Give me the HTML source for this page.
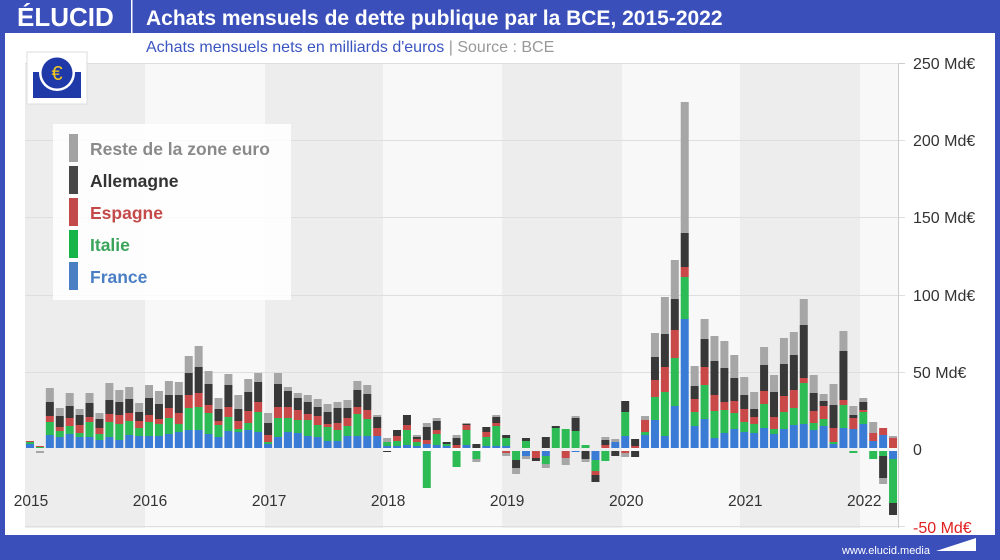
<!DOCTYPE html>
<html><head><meta charset="utf-8">
<style>
body{margin:0;width:1000px;height:560px;overflow:hidden;background:#fff;font-family:"Liberation Sans",sans-serif}
#wrap{position:relative;width:1000px;height:560px}
</style></head><body><div id="wrap">
<svg id="s" width="1000" height="560" xmlns="http://www.w3.org/2000/svg" style="position:absolute;left:0;top:0">
<rect x="0" y="0" width="1000" height="560" fill="#3b4fbb"/>
<rect x="5" y="33" width="990" height="502" fill="#fff"/>
<text x="17" y="26" font-size="26" font-weight="bold" fill="#fff" font-family="Liberation Sans">ÉLUCID</text>
<rect x="131" y="0" width="1.5" height="33" fill="#fff"/>
<text x="146" y="25" font-size="21" font-weight="bold" fill="#fff" font-family="Liberation Sans">Achats mensuels de dette publique par la BCE, 2015-2022</text>
<text x="146" y="52" font-size="16" fill="#3b55c0" font-family="Liberation Sans">Achats mensuels nets en milliards d'euros <tspan fill="#999">  |  Source : BCE</tspan></text>
<g id="bg"></g>
<g id="bars"></g>
<line x1="898.5" y1="63" x2="898.5" y2="528" stroke="#ccc"/>
<g font-size="16" fill="#333" font-family="Liberation Sans">
<text x="913" y="69">250 Md€</text>
<text x="913" y="146">200 Md€</text>
<text x="913" y="223">150 Md€</text>
<text x="913" y="301">100 Md€</text>
<text x="913" y="378">50 Md€</text>
<text x="913" y="455">0</text>
<text x="913" y="533" fill="#e02020">-50 Md€</text>
</g>
<g id="xl" font-size="15.5" fill="#333" font-family="Liberation Sans" text-anchor="middle"></g>
<rect x="27" y="52" width="60" height="52" fill="#fff" stroke="#ddd"/>
<rect x="33" y="72" width="48" height="26" fill="#1f3aa8"/>
<circle cx="57" cy="73" r="18" fill="#fff"/>
<circle cx="57" cy="73" r="15.5" fill="#1f3aa8"/>
<text x="57" y="80" font-size="20" fill="#f3c81c" text-anchor="middle" font-family="Liberation Sans">€</text>
<rect x="53" y="124" width="238" height="176" fill="#fff" fill-opacity="0.85"/>
<rect x="69" y="134" width="9" height="28" fill="#a3a3a3"/>
<rect x="69" y="166" width="9" height="28" fill="#474747"/>
<rect x="69" y="198" width="9" height="28" fill="#c24a4a"/>
<rect x="69" y="230" width="9" height="28" fill="#16b449"/>
<rect x="69" y="262" width="9" height="28" fill="#4a7fc4"/>
<g font-size="17.5" font-family="Liberation Sans" font-weight="bold">
<text x="90" y="155" fill="#8a8a8a">Reste de la zone euro</text>
<text x="90" y="187" fill="#333">Allemagne</text>
<text x="90" y="219" fill="#c44a4a">Espagne</text>
<text x="90" y="251" fill="#3aa55a">Italie</text>
<text x="90" y="283" fill="#4a7fc4">France</text>
</g>
<text x="930" y="554" font-size="11" fill="#fff" text-anchor="end" font-family="Liberation Sans">www.elucid.media</text>
<polygon points="936,551 976,538 976,551" fill="#fff"/>
</svg>
<script>
var ns="http://www.w3.org/2000/svg";
function R(g,x,y,w,h,c){if(h<=0)return;var r=document.createElementNS(ns,"rect");r.setAttribute("x",x);r.setAttribute("y",y);r.setAttribute("width",w);r.setAttribute("height",h);r.setAttribute("fill",c);g.appendChild(r);}
var bg=document.getElementById("bg");
R(bg,25,63,873,465,"#f3f3f3");
var bnd=[25,145,265,383,502,622,740,860,898];
for(var k=0;k<8;k++){R(bg,bnd[k],63,bnd[k+1]-bnd[k],465,k%2? "#f8f8f8":"#ededed");}
[63,140,217,295,372,526].forEach(function(y){R(bg,25,y,880,1,"#dedede");});
R(bg,898,63,7,1,"#ccc");
var P={
0:[4,2,1,0,0],1:[0,1,1,0,0],2:[13,13,6,14,14],3:[11,6,4,11,8],4:[14,8,8,12,13],5:[11,4,8,10,6],6:[11,15,5,14,10],7:[8,6,6,9,6],8:[11,15,8,14,17],9:[8,16,9,13,12],10:[13,14,8,14,12],11:[12,8,7,9,9],12:[12,14,7,17,13],13:[12,12,5,15,13],14:[14,16,10,13,14],15:[16,8,11,18,13],16:[18,22,13,22,17],17:[18,23,14,26,21],18:[14,21,8,21,13],19:[11,12,4,12,11],20:[17,14,10,22,11],21:[16,3,8,12,14],22:[18,7,12,19,13],23:[16,20,10,20,9],24:[4,2,7,12,10],25:[11,19,11,23,11],26:[16,14,11,16,4],27:[15,13,10,12,5],28:[12,16,6,12,7],29:[11,12,9,9,8],30:[7,14,3,12,8],31:[7,11,7,15,6],32:[12,10,8,10,8],33:[12,22,7,17,9],34:[12,17,9,16,9],35:[12,0,8,11,2],36:[2,4,0,0,4],37:[2,5,5,6,0],38:[3,15,5,10,0],39:[2,4,3,2,2],40:[4,0,4,13,4],41:[3,11,4,9,3],42:[2,2,0,2,0],43:[0,0,3,7,3],44:[3,15,5,1,1],45:[0,0,0,4,0],46:[2,9,5,5,0],47:[2,20,3,6,2],48:[2,8,0,3,0],50:[0,7,0,3,0],52:[0,0,0,11,0],53:[0,20,0,2,0],54:[0,19,0,0,0],55:[0,17,0,13,2],56:[0,3,0,0,0],58:[0,0,3,5,3],59:[6,0,0,0,3],60:[12,24,0,11,0],61:[0,0,2,7,0],62:[13,3,12,0,4],
63:[28,23,17,23,24],64:[12,44,25,33,37],65:[42,48,28,31,39],66:[129,42,10,34,131],67:[22,14,13,13,20],68:[29,34,18,28,20],69:[10,27,16,34,25],70:[15,23,8,34,27],71:[19,16,12,23,23],72:[16,10,13,14,18],73:[15,9,7,8,17],74:[20,24,13,26,18],75:[14,5,12,25,17],76:[19,17,16,32,26],77:[23,17,18,35,23],78:[24,41,5,53,26],79:[18,7,12,18,18],80:[22,7,13,5,7],81:[4,2,14,23,21],82:[20,23,5,49,20],83:[19,0,11,3,9],84:[24,12,2,8,4],85:[7,0,8,0,11],86:[13,0,7,0,0],87:[0,0,10,0,2]};
var N={1:[0,0,0,0,2],36:[0,0,0,1,0],40:[0,37,0,0,0],43:[0,16,0,0,0],45:[0,8,0,0,3],48:[0,0,2,0,3],49:[0,9,0,8,6],50:[5,0,0,0,3],51:[0,0,7,3,0],52:[5,8,0,0,4],54:[0,0,7,0,7],55:[1,0,0,0,0],56:[0,0,0,8,3],57:[9,11,4,7,0],58:[0,10,0,0,0],59:[0,0,0,5,0],60:[0,0,2,0,4],61:[0,0,0,6,0],83:[0,2,0,0,0],85:[0,8,0,0,0],86:[0,5,0,22,6],87:[8,44,0,12,0]};
var C=["#3a7bd5","#2dbb55","#c94848","#383838","#a6a6a6"];
var g=document.getElementById("bars");
for(var i=0;i<88;i++){var cx=30+9.92*i,x=cx-4;
 if(P[i]){var y=448;for(var j=0;j<5;j++){var h=P[i][j];y-=h;R(g,x,y,8,h,C[j]);}}
 if(N[i]){var y2=451;for(var j=0;j<5;j++){var h=N[i][j];R(g,x,y2,8,h,C[j]);y2+=h;}}
}
var xl=document.getElementById("xl");
for(var k=0;k<8;k++){var t=document.createElementNS(ns,"text");t.setAttribute("x",31+9.92*12*k);t.setAttribute("y",506);t.textContent=2015+k;xl.appendChild(t);}
</script>
</div></body></html>
